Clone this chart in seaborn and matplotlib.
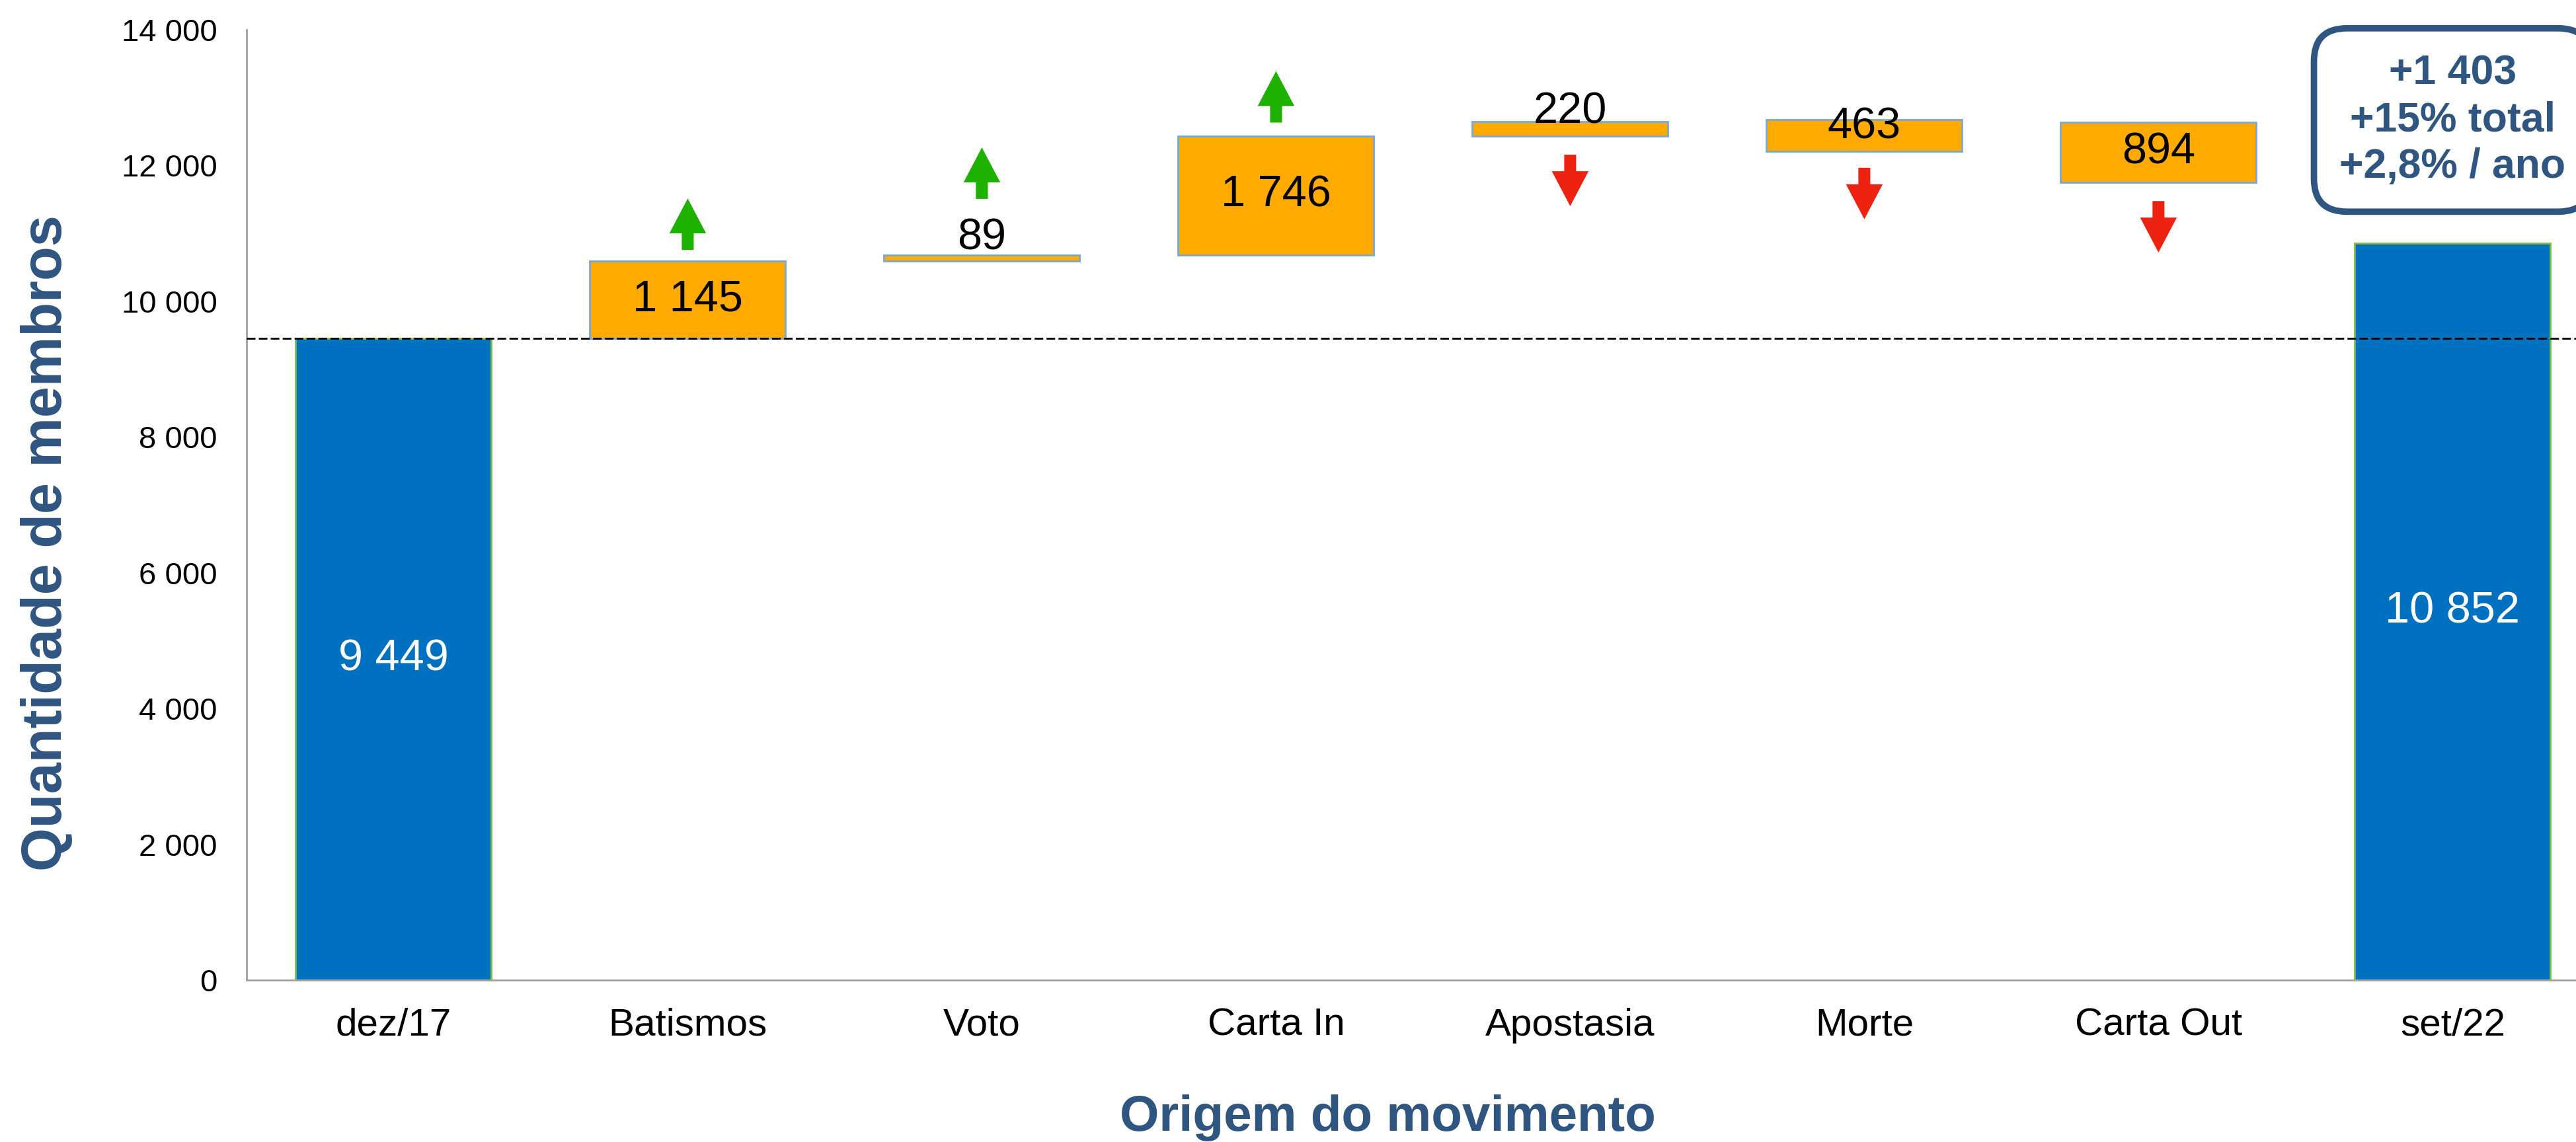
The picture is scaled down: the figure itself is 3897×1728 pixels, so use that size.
import matplotlib
matplotlib.use("Agg")
import matplotlib.pyplot as plt
import seaborn as sns
import pandas as pd
from matplotlib.ticker import FuncFormatter
from matplotlib.text import OffsetFrom

# data
categories = ["dez/17", "Batismos", "Voto", "Carta In", "Apostasia", "Morte", "Carta Out", "set/22"]
start_value = 9449
end_value = 10852
change_names = ["Batismos", "Voto", "Carta In", "Apostasia", "Morte", "Carta Out"]
changes = [1145, 89, 1746, -220, -463, -894]
summary_lines = ["+1 403", "+15% total", "+2,8% / ano"]

# styles
BLUE = "#0070C0"
ORANGE = "#FFAA00"
DARK = "#2F5581"
label_offsets = {"Voto": 6, "Apostasia": -2, "Morte": -20}   # points, baseline-anchored
arrow_gaps = {"Batismos": 12, "Voto": 61, "Carta In": 15,
              "Apostasia": 20, "Morte": 18, "Carta Out": 20}

def fmt(v):
    return f"{int(round(v)):,}".replace(",", " ")

# running level before each change (bars sit on the level before the move)
bottoms = []
level = start_value
for c in changes:
    bottoms.append(level)
    level += c
heights = [abs(c) for c in changes]

totals_df = pd.DataFrame({"cat": ["dez/17", "set/22"], "value": [start_value, end_value]})
delta_df = pd.DataFrame({"cat": change_names, "value": heights})

sns.set_theme(style="white")
plt.rcParams["font.family"] = ["Liberation Sans", "DejaVu Sans"]

fig = plt.figure(figsize=(38.97, 17.28), dpi=100)
ax = fig.add_axes([0.0957, 0.1418, 0.9135, 0.8322])

sns.barplot(data=totals_df, x="cat", y="value", order=categories, color=BLUE,
            saturation=1, width=0.665, edgecolor="#7DBE3F", linewidth=2,
            errorbar=None, ax=ax)
sns.barplot(data=delta_df, x="cat", y="value", order=categories, color=ORANGE,
            saturation=1, width=0.665, edgecolor="#7BA7D5", linewidth=2,
            errorbar=None, bottom=bottoms, ax=ax)

# baseline reference
ax.axhline(start_value, color="black", lw=2, ls=(0, (4.7, 1.8)), zorder=5)

# total labels
for name, val in zip(["dez/17", "set/22"], [start_value, end_value]):
    ax.text(categories.index(name), val / 2, fmt(val), color="white",
            fontsize=48, ha="center", va="center")

# change labels and arrows
for name, b, h, c in zip(change_names, bottoms, heights, changes):
    i = categories.index(name)
    if name in label_offsets:
        ax.annotate(fmt(h), xy=(i, b + h), xytext=(0, label_offsets[name]),
                    textcoords="offset points", ha="center", va="baseline",
                    fontsize=48, color="black", zorder=6)
    else:
        ax.text(i, b + h / 2, fmt(h), ha="center", va="center",
                fontsize=48, color="black", zorder=6)

    gap = arrow_gaps[name]
    if c > 0:
        ref = OffsetFrom(ax.transData, (i, b + h), unit="points")
        tail, tip, col = gap, gap + 56, "#1EB100"
    else:
        ref = OffsetFrom(ax.transData, (i, b), unit="points")
        tail, tip, col = -gap, -(gap + 56), "#EE2211"
    ax.annotate("", xy=(0, tip), xycoords=ref, xytext=(0, tail), textcoords=ref,
                arrowprops=dict(arrowstyle="simple,head_length=38,head_width=40,tail_width=13",
                                mutation_scale=1, shrinkA=0, shrinkB=0,
                                fc=col, ec="none", lw=0))

# summary box
ax.text(categories.index("set/22"), 0.905, "\n".join(summary_lines),
        transform=ax.get_xaxis_transform(), ha="center", va="center",
        fontsize=45, fontweight="bold", color=DARK, linespacing=1.25,
        bbox=dict(boxstyle="round,pad=0.62,rounding_size=0.8", fc="white",
                  ec=DARK, lw=7))

ax.set_xlim(-0.5, 7.5)
ax.set_ylim(0, 14000)
ax.set_yticks(range(0, 14001, 2000))
ax.yaxis.set_major_formatter(FuncFormatter(lambda v, p: fmt(v)))
ax.tick_params(axis="x", length=0, pad=30, labelsize=42, colors="black")
ax.tick_params(axis="y", length=0, pad=32, labelsize=34, colors="black")

sns.despine(ax=ax)
for s in ["left", "bottom"]:
    ax.spines[s].set_color("#A0A0A0")
    ax.spines[s].set_linewidth(2)

ax.set_ylabel("Quantidade de membros", fontsize=61, fontweight="bold", color=DARK)
ax.set_xlabel("Origem do movimento", fontsize=55, fontweight="bold", color=DARK)
ax.yaxis.set_label_coords(-0.0736, 0.46)
ax.xaxis.set_label_coords(0.485, -0.12)

fig.savefig("out.png", dpi=100)
